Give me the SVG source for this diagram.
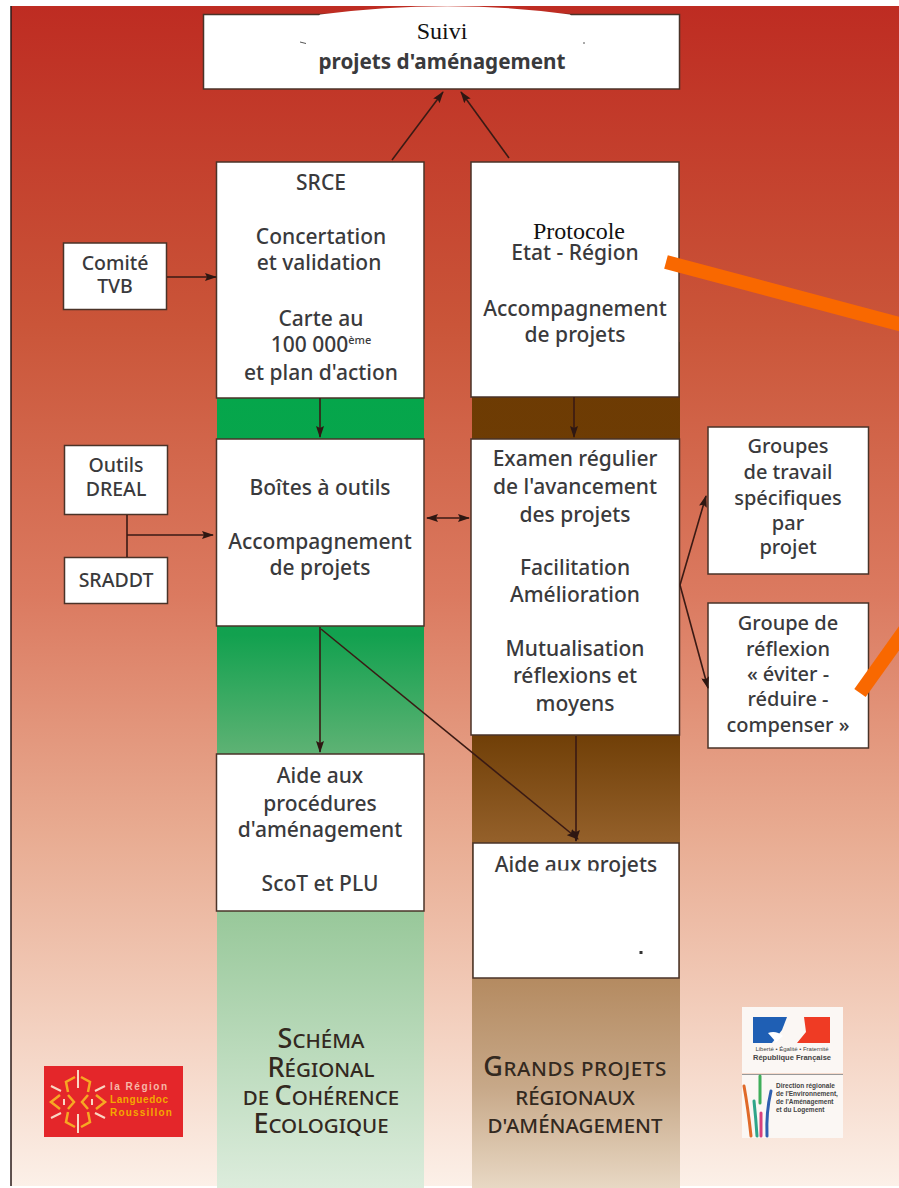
<svg xmlns="http://www.w3.org/2000/svg" width="899" height="1188" viewBox="0 0 899 1188">
<style>
.box{fill:#fff;stroke:#4a3328;stroke-width:1.5}
.t{font-family:"Noto Sans","Open Sans",sans-serif;font-size:21px;fill:#3a3a3c;text-anchor:middle;font-weight:500}
.s{font-size:19.5px}
.m{font-size:20px}
.b{font-weight:700;font-size:20.700px}
.serif{font-family:"Liberation Serif",serif;font-size:24px;fill:#111;text-anchor:middle}
.cap{font-family:"Noto Sans","Open Sans",sans-serif;font-size:27px;fill:#33291f;text-anchor:middle;font-weight:500}
.cap tspan.sm{font-size:20.500px}
.con{stroke:#3a1a14;stroke-width:1.6;fill:none;marker-end:url(#ah)}
.lg{font-family:"Liberation Sans",sans-serif;font-weight:700;text-anchor:start}
</style>
<defs>
<marker id="ah" viewBox="0 0 12 8" refX="11" refY="4" markerWidth="12" markerHeight="8" markerUnits="userSpaceOnUse" orient="auto-start-reverse"><path d="M0 0L12 4L0 8L2 4Z" fill="#2e1712"/></marker>
<linearGradient id="bg" x1="0" y1="0" x2="0" y2="1">
<stop offset="0" stop-color="#be2c22"/><stop offset=".27" stop-color="#ca5539"/><stop offset=".5" stop-color="#db7a60"/><stop offset=".7" stop-color="#e8ab91"/><stop offset=".85" stop-color="#f2cdbb"/><stop offset="1" stop-color="#fcf0e8"/>
</linearGradient>
<linearGradient id="gr" x1="0" y1="0" x2="0" y2="1">
<stop offset="0" stop-color="#05a64b"/><stop offset=".3" stop-color="#12a14f"/><stop offset=".45" stop-color="#5eb274"/><stop offset=".65" stop-color="#98c89a"/><stop offset="1" stop-color="#dcecdc"/>
</linearGradient>
<linearGradient id="br" x1="0" y1="0" x2="0" y2="1">
<stop offset="0" stop-color="#6d3b03"/><stop offset=".46" stop-color="#6f3e06"/><stop offset=".59" stop-color="#94602a"/><stop offset=".75" stop-color="#b48a60"/><stop offset=".88" stop-color="#c7a888"/><stop offset="1" stop-color="#e8d8c4"/>
</linearGradient>
</defs>
<rect width="899" height="1188" fill="#fff"/>
<rect x="11" y="6" width="888" height="1180" fill="url(#bg)"/>
<path d="M11 6V1186" stroke="#2a1a18" stroke-width="1.5"/>
<rect id="col-green" x="217" y="398" width="207" height="790" fill="url(#gr)"/>
<rect id="col-brown" x="472" y="342" width="208" height="846" fill="url(#br)"/>

<g id="suivi"><rect class="box" x="203.500" y="14.500" width="476" height="74.500"/>
<path d="M320 14.500Q450 -2 570 14.500L590 40Q450 55 300 40Z" fill="#fff"/>
<path d="M300 42l6 1.500M583 43h2" stroke="#555" stroke-width="1"/>
<text class="serif" x="442" y="39">Suivi</text>
<text class="t b" x="442" y="69">projets d'aménagement</text></g>

<g id="srce"><rect class="box" x="216.500" y="162" width="207.500" height="236"/>
<text class="t" x="321" y="190">SRCE</text>
<text class="t" x="321" y="244">Concertation</text>
<text class="t" x="319" y="270">et validation</text>
<text class="t" x="321" y="326">Carte au</text>
<text class="t" x="321" y="352">100 000<tspan font-size="11" dy="-8">ème</tspan></text>
<text class="t" x="321" y="380">et plan d'action</text></g>

<g id="protocole"><rect class="box" x="471" y="162" width="208" height="235"/>
<text class="serif" x="579" y="239">Protocole</text>
<text class="t" x="575" y="260">Etat - Région</text>
<text class="t" x="575" y="316">Accompagnement</text>
<text class="t" x="575" y="342">de projets</text></g>

<g id="comite"><rect class="box" x="63.500" y="243" width="103" height="66.500"/>
<text class="t s" x="115" y="270">Comité</text>
<text class="t s" x="115" y="293">TVB</text></g>

<g id="outils"><rect class="box" x="64.500" y="445.500" width="103" height="69"/>
<text class="t s" x="116" y="472">Outils</text>
<text class="t s" x="116" y="496">DREAL</text></g>

<g id="sraddt"><rect class="box" x="64.500" y="557.500" width="103" height="46"/>
<text class="t s" x="116" y="587">SRADDT</text></g>

<g id="boites"><rect class="box" x="216.500" y="439" width="207.500" height="187"/>
<text class="t" x="320" y="495">Boîtes à outils</text>
<text class="t" x="320" y="549">Accompagnement</text>
<text class="t" x="320" y="575">de projets</text></g>

<g id="examen"><rect class="box" x="471" y="439" width="208.500" height="296"/>
<text class="t" x="575" y="466">Examen régulier</text>
<text class="t" x="575" y="494">de l'avancement</text>
<text class="t" x="575" y="522">des projets</text>
<text class="t" x="575" y="575">Facilitation</text>
<text class="t" x="575" y="602">Amélioration</text>
<text class="t" x="575" y="656">Mutualisation</text>
<text class="t" x="575" y="683">réflexions et</text>
<text class="t" x="575" y="711">moyens</text></g>

<g id="groupes"><rect class="box" x="708" y="427" width="160.500" height="147"/>
<text class="t m" x="788" y="453">Groupes</text>
<text class="t m" x="788" y="479">de travail</text>
<text class="t m" x="788" y="505">spécifiques</text>
<text class="t m" x="788" y="530">par</text>
<text class="t m" x="788" y="554">projet</text></g>

<g id="reflexion"><rect class="box" x="708" y="603" width="160.500" height="145"/>
<text class="t m" x="788" y="630">Groupe de</text>
<text class="t m" x="788" y="656">réflexion</text>
<text class="t m" x="788" y="681">« éviter -</text>
<text class="t m" x="788" y="706">réduire -</text>
<text class="t m" x="788" y="732">compenser »</text></g>

<g id="aide-proc"><rect class="box" x="216.500" y="754" width="207.500" height="157"/>
<text class="t" x="320" y="783">Aide aux</text>
<text class="t" x="320" y="811">procédures</text>
<text class="t" x="320" y="837">d'aménagement</text>
<text class="t" x="320" y="891">ScoT et PLU</text></g>

<g id="aide-proj"><rect class="box" x="473" y="843" width="206" height="135"/>
<text class="t" x="576" y="872">Aide aux projets</text>
<rect x="544" y="870.500" width="52" height="10" fill="#fff"/>
<rect x="639.500" y="951" width="3" height="3" fill="#333"/></g>

<g id="connectors">
<path class="con" d="M392 160L443 92"/>
<path class="con" d="M509 158L461 92"/>
<path class="con" d="M167 277H216"/>
<path class="con" d="M320 398V437"/>
<path class="con" d="M574 397V437"/>
<path d="M127 515V557" stroke="#3a1a14" stroke-width="1.600"/>
<path class="con" d="M127 535H213"/>
<path class="con" style="marker-start:url(#ah)" d="M427 518H469"/>
<path class="con" d="M320 627V752"/>
<path class="con" d="M576 736V841"/>
<path class="con" d="M321 629L578 839"/>
<path class="con" d="M680 585L706 496"/>
<path class="con" d="M680 585L708 688"/>
</g>

<g id="caption-srce">
<text class="cap" x="321" y="1048">S<tspan class="sm">CHÉMA</tspan></text>
<text class="cap" x="321" y="1077">R<tspan class="sm">ÉGIONAL</tspan></text>
<text class="cap" x="321" y="1105"><tspan class="sm">DE </tspan>C<tspan class="sm">OHÉRENCE</tspan></text>
<text class="cap" x="321" y="1133">E<tspan class="sm">COLOGIQUE</tspan></text></g>

<g id="caption-grands">
<text class="cap" x="575" y="1076" letter-spacing=".6">G<tspan class="sm">RANDS PROJETS</tspan></text>
<text class="cap" x="575" y="1105"><tspan class="sm">RÉGIONAUX</tspan></text>
<text class="cap" x="575" y="1133"><tspan class="sm">D'AMÉNAGEMENT</tspan></text></g>

<g id="logo-region">
<rect x="44" y="1066" width="139" height="71" fill="#e4262a"/>
<g fill="none" stroke="#f7a823" stroke-width="2.500">
<path d="M75 1077L66 1082 68 1092M81 1077L90 1082 88 1092"/>
<path d="M60 1095L51 1102 60 1109M68 1095L74 1102 68 1109M88 1095L82 1102 88 1109M96 1095L105 1102 96 1109"/>
<path d="M75 1127L66 1122 68 1112M81 1127L90 1122 88 1112"/>
</g>
<g stroke="#f9d7c4" stroke-width="2" fill="none"><path d="M78 1070V1088M78 1114V1133M51 1086l10 5M51 1118l10-5M95 1091l10-5M95 1113l10 5M64 1099v6M92 1099v6"/></g>
<text class="lg" x="110" y="1090" font-size="10" fill="#f6b8a8" letter-spacing="1.500">la Région</text>
<text class="lg" x="110" y="1103" font-size="10" fill="#f5a800" letter-spacing=".6">Languedoc</text>
<text class="lg" x="110" y="1116" font-size="10" fill="#f5a800" letter-spacing="1.200">Roussillon</text>
</g>

<g id="logo-etat">
<rect x="742" y="1007" width="101" height="66" fill="#fbf7f4"/>
<rect x="742" y="1075" width="101" height="63" fill="#fbf7f4"/>
<path d="M742 1074.500H843" stroke="#999" stroke-width="1"/>
<path d="M753 1017H787L782 1030 772 1043H753Z" fill="#1f5fb4"/>
<path d="M804 1017H830V1043H797L806 1032Z" fill="#ef3b24"/>
<path d="M768 1033Q776 1030 783 1036L776 1042Z" fill="#fff"/>
<text x="792" y="1051" font-family="Liberation Sans,sans-serif" font-size="6" fill="#444" text-anchor="middle">Liberté • Égalité • Fraternité</text>
<text x="792" y="1060" font-family="Liberation Sans,sans-serif" font-size="7.500" font-weight="700" fill="#444" text-anchor="middle">République Française</text>
<g fill="none" stroke-width="3" stroke-linecap="round">
<path d="M744 1086Q748 1108 751 1136" stroke="#e06a2a"/>
<path d="M760 1076V1103" stroke="#3fae5a"/>
<path d="M754 1101Q756 1120 757 1136" stroke="#2fa58a"/>
<path d="M761 1113V1136" stroke="#d8407c"/>
<path d="M771 1091Q766 1112 767 1136" stroke="#2f5fb0"/>
</g>
<g font-family="Liberation Sans,sans-serif" font-size="6.500" font-weight="700" fill="#444">
<text x="776" y="1088">Direction régionale</text>
<text x="776" y="1096">de l'Environnement,</text>
<text x="776" y="1104">de l'Aménagement</text>
<text x="776" y="1112">et du Logement</text></g>
</g>

<g id="marks" stroke="#f96800" stroke-width="14" fill="none">
<path d="M666 262L905 325.500"/>
<path d="M860 693L905 630"/>
</g>
</svg>
